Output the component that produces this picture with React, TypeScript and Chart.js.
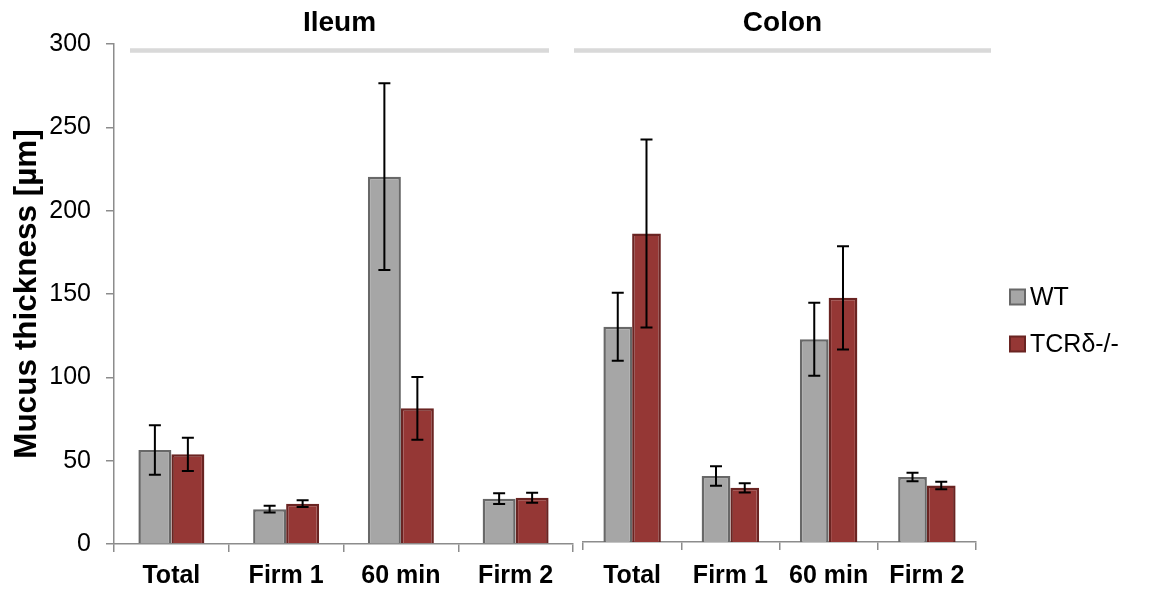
import React, { useEffect, useRef } from "react";
import { Chart, registerables } from "chart.js";

Chart.register(...registerables);

const categories = ["Total", "Firm 1", "60 min", "Firm 2"];
const groupNames = ["Ileum", "Colon"];
const seriesNames = ["WT", "TCRδ-/-"];
const yTicks = [0, 50, 100, 150, 200, 250, 300];
const yTitle = "Mucus thickness [µm]";

const ileumWT = [56.4, 20.9, 220.4, 27.2];
const ileumWTErr = [14.8, 2.0, 56.0, 3.2];
const ileumKO = [53.8, 24.2, 81.4, 27.8];
const ileumKOErr = [10.0, 2.0, 18.8, 3.0];

const colonWT = [129.1, 39.6, 121.6, 39.0];
const colonWTErr = [20.4, 5.9, 21.9, 2.6];
const colonKO = [185.1, 32.5, 146.5, 33.9];
const colonKOErr = [56.4, 2.8, 31.0, 2.2];

const FONT = "'Liberation Sans', Arial, Helvetica, sans-serif";
const WT_FILL = "#A6A6A6";
const WT_BORDER = "#686868";
const KO_FILL = "#953735";
const KO_BORDER = "#6A2422";
const AXIS = "#8C8C8C";

const errorBarPlugin = {
  id: "errorBars",
  afterDatasetsDraw(chart: any) {
    const ctx = chart.ctx;
    const y = chart.scales.y;
    chart.data.datasets.forEach((ds: any, i: number) => {
      const meta = chart.getDatasetMeta(i);
      meta.data.forEach((el: any, j: number) => {
        const v = ds.data[j];
        const e = ds.errors[j];
        const top = y.getPixelForValue(v + e);
        const bot = y.getPixelForValue(v - e);
        const cap = 6;
        ctx.save();
        ctx.strokeStyle = "#000";
        ctx.lineWidth = 2;
        ctx.beginPath();
        ctx.moveTo(el.x, top);
        ctx.lineTo(el.x, bot);
        ctx.moveTo(el.x - cap, top);
        ctx.lineTo(el.x + cap, top);
        ctx.moveTo(el.x - cap, bot);
        ctx.lineTo(el.x + cap, bot);
        ctx.stroke();
        ctx.restore();
      });
    });
  },
};

const groupHeaderPlugin = {
  id: "groupHeader",
  afterDraw(chart: any, _args: any, opts: any) {
    const ctx = chart.ctx;
    const { left, right } = chart.chartArea;
    const x1 = left + opts.startOffset;
    const x2 = right + opts.endOffset;
    ctx.save();
    ctx.fillStyle = "#D9D9D9";
    ctx.fillRect(x1, opts.lineY - 2.25, x2 - x1, 4.5);
    ctx.fillStyle = "#000";
    ctx.font = `bold 28px ${FONT}`;
    ctx.textAlign = "center";
    ctx.textBaseline = "middle";
    ctx.fillText(opts.text, (x1 + x2) / 2, opts.textY);
    ctx.restore();
  },
};

const sideLegendPlugin = {
  id: "sideLegend",
  afterDraw(chart: any, _args: any, opts: any) {
    if (!opts || !opts.show) return;
    const ctx = chart.ctx;
    const bx = chart.chartArea.right + opts.offsetX;
    ctx.save();
    chart.data.datasets.forEach((ds: any, i: number) => {
      const cy = opts.firstY + i * opts.gap;
      ctx.fillStyle = ds.backgroundColor;
      ctx.strokeStyle = ds.borderColor;
      ctx.lineWidth = 2;
      ctx.fillRect(bx, cy - 7.5, 15, 15);
      ctx.strokeRect(bx, cy - 7.5, 15, 15);
      ctx.fillStyle = "#000";
      ctx.font = `25px ${FONT}`;
      ctx.textAlign = "left";
      ctx.textBaseline = "middle";
      ctx.fillText(ds.label, bx + 20, cy + 1);
    });
    ctx.restore();
  },
};

function makeConfig(
  wt: number[],
  wtErr: number[],
  ko: number[],
  koErr: number[],
  opts: {
    showY: boolean;
    padding: any;
    yWidth: number;
    xHeight: number;
    xPad: number;
    header: any;
    legend: any;
    catPct: number;
  }
): any {
  return {
    type: "bar",
    data: {
      labels: categories,
      datasets: [
        {
          label: seriesNames[0],
          data: wt,
          errors: wtErr,
          backgroundColor: WT_FILL,
          borderColor: WT_BORDER,
          borderWidth: 2.5,
          categoryPercentage: opts.catPct,
          barPercentage: 1,
        },
        {
          label: seriesNames[1],
          data: ko,
          errors: koErr,
          backgroundColor: KO_FILL,
          borderColor: KO_BORDER,
          borderWidth: 2.5,
          categoryPercentage: opts.catPct,
          barPercentage: 1,
        },
      ],
    },
    options: {
      animation: false,
      responsive: false,
      maintainAspectRatio: false,
      layout: { padding: opts.padding },
      plugins: {
        legend: { display: false },
        tooltip: { enabled: false },
        title: { display: false },
        groupHeader: opts.header,
        sideLegend: opts.legend,
      },
      scales: {
        x: {
          type: "category",
          offset: true,
          grid: {
            offset: true,
            drawOnChartArea: false,
            drawTicks: true,
            tickLength: 8,
            color: AXIS,
            lineWidth: 1.5,
          },
          border: { display: true, color: AXIS, width: 1.5 },
          ticks: {
            color: "#000",
            font: { family: FONT, size: 25, weight: "bold" },
            padding: opts.xPad,
            maxRotation: 0,
            autoSkip: false,
          },
          afterFit(scale: any) {
            scale.height = opts.xHeight;
          },
        },
        y: {
          display: opts.showY,
          min: yTicks[0],
          max: yTicks[yTicks.length - 1],
          afterBuildTicks(scale: any) {
            scale.ticks = yTicks.map((v) => ({ value: v }));
          },
          grid: {
            drawOnChartArea: false,
            drawTicks: true,
            tickLength: 8,
            color: AXIS,
            lineWidth: 1.5,
          },
          border: { display: true, color: AXIS, width: 1.5 },
          ticks: {
            color: "#000",
            font: { family: FONT, size: 25 },
            padding: 15,
          },
          title: {
            display: true,
            text: yTitle,
            color: "#000",
            font: { family: FONT, size: 31.5, weight: "bold" },
            padding: { top: 3, bottom: 0 },
          },
          afterFit(scale: any) {
            scale.width = opts.yWidth;
          },
        },
      },
    },
    plugins: [errorBarPlugin, groupHeaderPlugin, sideLegendPlugin],
  };
}

export default function App() {
  const leftRef = useRef<HTMLCanvasElement | null>(null);
  const rightRef = useRef<HTMLCanvasElement | null>(null);

  useEffect(() => {
    Chart.defaults.font.family = FONT;
    const c1 = new Chart(
      leftRef.current as HTMLCanvasElement,
      makeConfig(ileumWT, ileumWTErr, ileumKO, ileumKOErr, {
        showY: true,
        padding: { left: 5, top: 44, right: 3, bottom: 0 },
        yWidth: 109,
        xHeight: 46,
        xPad: 9,
        catPct: 0.575,
        header: {
          text: groupNames[0],
          startOffset: 16,
          endOffset: -24,
          lineY: 50.5,
          textY: 23,
        },
        legend: { show: false },
      })
    );
    const c2 = new Chart(
      rightRef.current as HTMLCanvasElement,
      makeConfig(colonWT, colonWTErr, colonKO, colonKOErr, {
        showY: false,
        padding: { left: 10, top: 42, right: 182, bottom: 0 },
        yWidth: 0,
        xHeight: 48,
        xPad: 11,
        catPct: 0.585,
        header: {
          text: groupNames[1],
          startOffset: -9,
          endOffset: 15,
          lineY: 50.5,
          textY: 23,
        },
        legend: { show: true, offsetX: 34, firstY: 297, gap: 47 },
      })
    );
    return () => {
      c1.destroy();
      c2.destroy();
    };
  }, []);

  return (
    <div
      style={{
        position: "absolute",
        left: 0,
        top: 0,
        width: 1158,
        height: 590,
        background: "#fff",
        overflow: "hidden",
      }}
    >
      <canvas
        ref={leftRef}
        width={576}
        height={590}
        style={{ position: "absolute", left: 0, top: 0, width: 576, height: 590 }}
      />
      <canvas
        ref={rightRef}
        width={585}
        height={590}
        style={{ position: "absolute", left: 573, top: 0, width: 585, height: 590 }}
      />
    </div>
  );
}
